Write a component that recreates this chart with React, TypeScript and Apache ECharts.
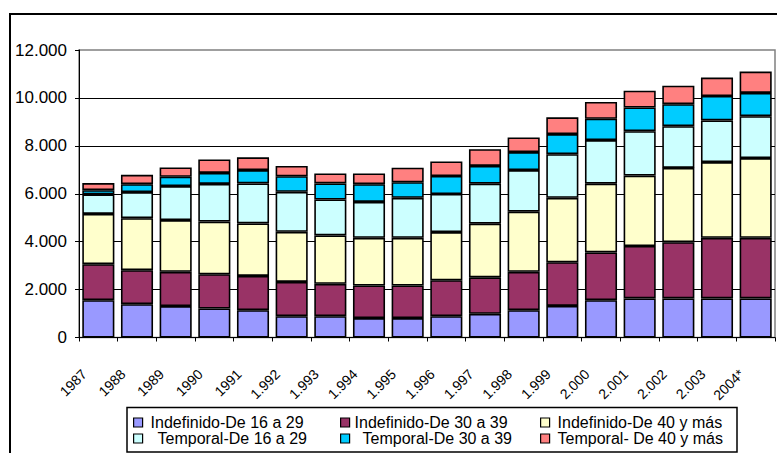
import React, { useEffect, useRef } from "react";
import * as echarts from "echarts";

const categories = ["1987", "1988", "1989", "1990", "1991", "1.992", "1.993", "1.994", "1.995", "1.996", "1.997", "1.998", "1.999", "2.000", "2.001", "2.002", "2.003", "2004*"];

const indef16 = [1560, 1390, 1310, 1210, 1140, 890, 890, 810, 810, 890, 990, 1140, 1320, 1560, 1630, 1630, 1630, 1630];
const indef30 = [1500, 1420, 1430, 1430, 1430, 1430, 1350, 1360, 1360, 1500, 1520, 1600, 1820, 1990, 2190, 2350, 2530, 2530];
const indef40 = [2100, 2170, 2160, 2200, 2190, 2090, 2020, 1990, 1990, 2010, 2240, 2510, 2690, 2870, 2940, 3100, 3160, 3330];
const temp16 = [810, 1090, 1420, 1570, 1670, 1670, 1500, 1500, 1670, 1590, 1670, 1740, 1820, 1820, 1850, 1740, 1740, 1750];
const temp30 = [180, 330, 390, 460, 560, 650, 670, 740, 650, 750, 740, 750, 840, 890, 990, 920, 1020, 970];
const temp40 = [295, 390, 390, 560, 530, 430, 420, 450, 610, 610, 700, 610, 700, 700, 700, 770, 770, 890];

const seriesNames = [
  "Indefinido-De 16 a 29",
  "Indefinido-De 30 a 39",
  "Indefinido-De 40 y más",
  "Temporal-De 16 a 29",
  "Temporal-De 30 a 39",
  "Temporal- De 40 y más",
];
const seriesData = [indef16, indef30, indef40, temp16, temp30, temp40];
const colors = ["#9999FF", "#993366", "#FFFFCC", "#CCFFFF", "#00CCFF", "#FF8080"];

const FONT = "Liberation Sans, Arial, sans-serif";

function fmt(v: number): string {
  if (v === 0) return "0";
  const th = Math.floor(v / 1000);
  const rest = v % 1000;
  return th + "." + String(rest).padStart(3, "0");
}

// legend layout: [left, top, textPadLeft]
const legendPos: [number, number, number][] = [
  [133, 414.5, 3],
  [340, 414.5, 0],
  [540, 414.5, 3],
  [133, 430.5, 10],
  [340, 430.5, 8],
  [540, 430.5, 3],
];

export default function App() {
  const ref = useRef<HTMLDivElement>(null);
  useEffect(() => {
    if (!ref.current) return;
    const chart = echarts.init(ref.current, null, { renderer: "svg" });
    const option: any = {
      animation: false,
      backgroundColor: "#ffffff",
      textStyle: { fontFamily: FONT },
      grid: {
        left: 79,
        top: 50,
        width: 696,
        height: 287.5,
        show: true,
        borderColor: "#808080",
        borderWidth: 1.5,
        backgroundColor: "transparent",
      },
      legend: seriesNames.map((n, i) => ({
        data: [n],
        left: legendPos[i][0],
        top: legendPos[i][1],
        padding: 0,
        itemWidth: 9,
        itemHeight: 9,
        icon: "rect",
        selectedMode: false,
        itemStyle: { borderColor: "#000", borderWidth: 1.2 },
        textStyle: {
          fontFamily: FONT,
          fontSize: 16,
          color: "#000",
          lineHeight: 16,
          padding: [0, 0, 0, legendPos[i][2]],
        },
      })),
      xAxis: {
        type: "category",
        data: categories,
        axisLine: { lineStyle: { color: "#000", width: 1 } },
        axisTick: { show: true, length: 4, lineStyle: { color: "#000" } },
        axisLabel: {
          rotate: 45,
          interval: 0,
          margin: 20,
          fontSize: 14,
          fontFamily: FONT,
          color: "#000",
          padding: [0, 20, 14, 0],
        },
      },
      yAxis: {
        type: "value",
        min: 0,
        max: 12000,
        interval: 2000,
        axisLine: { show: true, lineStyle: { color: "#000", width: 1 } },
        axisTick: { show: true, length: 4, lineStyle: { color: "#000" } },
        axisLabel: {
          margin: 12,
          fontSize: 17,
          fontFamily: FONT,
          color: "#000",
          formatter: (v: number) => fmt(v),
        },
        splitLine: {
          show: true,
          showMaxLine: false,
          lineStyle: { color: "#000", width: 1 },
        },
      },
      series: seriesNames.map((n, i) => ({
        name: n,
        type: "bar",
        stack: "total",
        data: seriesData[i],
        barCategoryGap: "17%",
        itemStyle: { color: colors[i], borderColor: "#000", borderWidth: 1.6 },
      })),
      graphic: [
        {
          type: "rect",
          shape: { x: 10, y: 14, width: 900, height: 700 },
          style: { fill: "none", stroke: "#000", lineWidth: 2 },
          silent: true,
        },
        {
          type: "rect",
          shape: { x: 127, y: 407.5, width: 610, height: 44.5 },
          style: { fill: "none", stroke: "#000", lineWidth: 1.5 },
          silent: true,
        },
      ],
    };
    chart.setOption(option);
    return () => chart.dispose();
  }, []);
  return (
    <div
      ref={ref}
      style={{ position: "fixed", left: 0, top: 0, width: 777, height: 453, background: "#fff" }}
    />
  );
}
